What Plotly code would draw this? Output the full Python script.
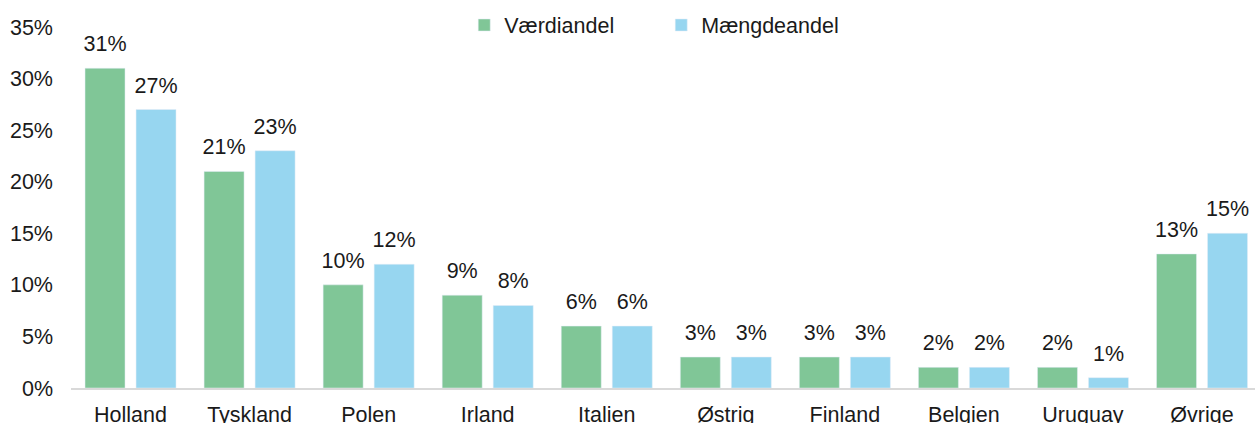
import plotly.graph_objects as go

categories = ["Holland", "Tyskland", "Polen", "Irland", "Italien", "Østrig", "Finland", "Belgien", "Uruguay", "Øvrige"]
vaerdiandel = [31, 21, 10, 9, 6, 3, 3, 2, 2, 13]
maengdeandel = [27, 23, 12, 8, 6, 3, 3, 2, 1, 15]
y_ticks = [0, 5, 10, 15, 20, 25, 30, 35]
y_ticklabels = [f"{v}%" for v in y_ticks]

FONT = "Liberation Sans, Arial, sans-serif"
GREEN = "#80C697"
BLUE = "#97D6F0"
TXT = "#1a1a1a"
FS = 21.5

fig = go.Figure()
for name, vals, col in [("Værdiandel", vaerdiandel, GREEN), ("Mængdeandel", maengdeandel, BLUE)]:
    fig.add_trace(go.Bar(name=name, x=categories, y=vals, marker_color=col,
                         offsetgroup=name, legendgroup=name))
for name, vals in [("Værdiandel", vaerdiandel), ("Mængdeandel", maengdeandel)]:
    fig.add_trace(go.Scatter(x=categories, y=vals, mode="markers+text",
                             text=[f"{v}%" for v in vals], textposition="top center",
                             marker=dict(size=17, color="rgba(0,0,0,0)"),
                             textfont=dict(size=FS, color=TXT, family=FONT),
                             showlegend=False, hoverinfo="skip", cliponaxis=False,
                             offsetgroup=name, legendgroup=name))

fig.update_layout(
    width=1255, height=423,
    margin=dict(l=71, r=0, t=27, b=35, autoexpand=False),
    paper_bgcolor="white", plot_bgcolor="white",
    font=dict(family=FONT, size=FS, color=TXT),
    barmode="group", bargap=0.143, bargroupgap=0.216,
    scattermode="group", scattergap=0.143,
    showlegend=True,
    legend=dict(orientation="h", x=0.4985, xanchor="center", y=1.0055, yanchor="middle",
                font=dict(size=FS), itemwidth=30, bgcolor="rgba(0,0,0,0)",
                entrywidth=152, entrywidthmode="pixels"),
)
fig.update_xaxes(range=[-0.5, 9.445], showline=True, linecolor="#D9D9D9", linewidth=2,
                 showgrid=False, ticks="", ticklabelstandoff=6, tickfont=dict(size=FS))
fig.update_yaxes(range=[0, 35], tickvals=y_ticks, ticktext=y_ticklabels, showgrid=False,
                 zeroline=False, showline=False, ticks="", ticklabelstandoff=17,
                 tickfont=dict(size=FS))

fig.write_html("out.html", config={"displayModeBar": False},
               post_script="document.body.style.margin='0';document.body.style.overflow='hidden';")
